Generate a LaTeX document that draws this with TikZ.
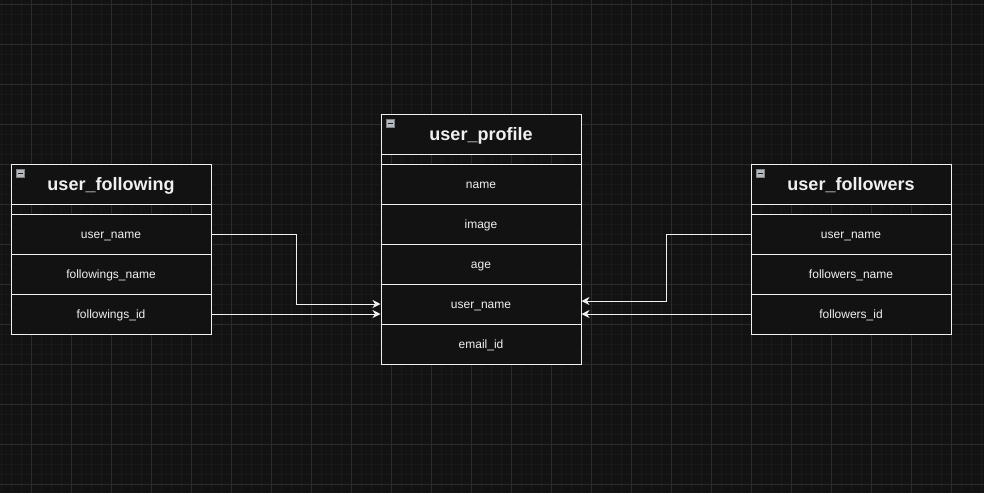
\documentclass[tikz,border=0pt]{standalone}
\usepackage{fontspec}
\setmainfont{Liberation Sans}
\usetikzlibrary{arrows.meta}
\definecolor{canvas}{HTML}{121212}
\definecolor{gridminor}{HTML}{191919}
\definecolor{gridmajor}{HTML}{2B2B2B}
\definecolor{ink}{HTML}{F0F0F0}
\definecolor{iconfill}{HTML}{B4B8C2}
\definecolor{iconline}{HTML}{1E1E1E}

\tikzset{
  field/.style={draw=ink, fill=canvas, line width=1pt, minimum width=200pt, minimum height=40pt,
    inner sep=0pt, text=ink, text height=9.5pt, text depth=1.5pt, font=\fontsize{12}{14}\selectfont},
  title/.style={field, text height=14pt, text depth=0.5pt, font=\bfseries\fontsize{18}{20}\selectfont},
  spacer/.style={draw=ink, line width=1pt, minimum width=200pt, minimum height=10pt, inner sep=0pt},
  toggle/.style={draw=gray, fill=iconfill, line width=0.5pt, minimum size=8pt, inner sep=0pt},
  link/.style={draw=ink, line width=1pt, -{Stealth[length=8pt,width=8pt,inset=2.5pt]}}
}

\begin{document}
\begin{tikzpicture}[x=1pt,y=-1pt]
  \useasboundingbox[fill=canvas] (0,0) rectangle (984,493);
  % canvas grid
  \foreach \x in {1,11,...,981} \draw[gridminor] (\x,0) -- (\x,493);
  \foreach \y in {4,14,...,484} \draw[gridminor] (0,\y) -- (984,\y);
  \foreach \x in {31,71,...,951} \draw[gridmajor] (\x,0) -- (\x,493);
  \foreach \y in {4,44,...,484} \draw[gridmajor] (0,\y) -- (984,\y);

  % user_following
  \node[title] (fhead) at (111,184) {user\_following};
  \node[spacer] (fgap) at (111,209) {};
  \node[field] (fuser) at (111,234) {user\_name};
  \node[field] (fname) at (111,274) {followings\_name};
  \node[field] (fid) at (111,314) {followings\_id};
  \node[toggle] (fmin) at (20.5,173) {};
  \draw[iconline, line width=1pt] ([xshift=1.5pt]fmin.west) -- ([xshift=-1.5pt]fmin.east);

  % user_profile
  \node[title] (phead) at (481,134) {user\_profile};
  \node[spacer] (pgap) at (481,159) {};
  \node[field] (pname) at (481,184) {name};
  \node[field] (pimage) at (481,224) {image};
  \node[field] (page) at (481,264) {age};
  \node[field] (puser) at (481,304) {user\_name};
  \node[field] (pmail) at (481,344) {email\_id};
  \node[toggle] (pmin) at (390.5,123) {};
  \draw[iconline, line width=1pt] ([xshift=1.5pt]pmin.west) -- ([xshift=-1.5pt]pmin.east);

  % user_followers
  \node[title] (whead) at (851,184) {user\_followers};
  \node[spacer] (wgap) at (851,209) {};
  \node[field] (wuser) at (851,234) {user\_name};
  \node[field] (wname) at (851,274) {followers\_name};
  \node[field] (wid) at (851,314) {followers\_id};
  \node[toggle] (wmin) at (760.5,173) {};
  \draw[iconline, line width=1pt] ([xshift=1.5pt]wmin.west) -- ([xshift=-1.5pt]wmin.east);

  % links
  \coordinate (lbend) at (296,0);
  \coordinate (rbend) at (666,0);
  \draw[link] (fuser.east) -- (fuser.east -| lbend) |- (puser.west);
  \draw[link] (fid.east) -- (fid.east -| puser.west);
  \draw[link] (wuser.west) -- (wuser.west -| rbend) |- ([yshift=3pt]puser.east);
  \draw[link] (wid.west) -- (wid.west -| puser.east);
\end{tikzpicture}
\end{document}
